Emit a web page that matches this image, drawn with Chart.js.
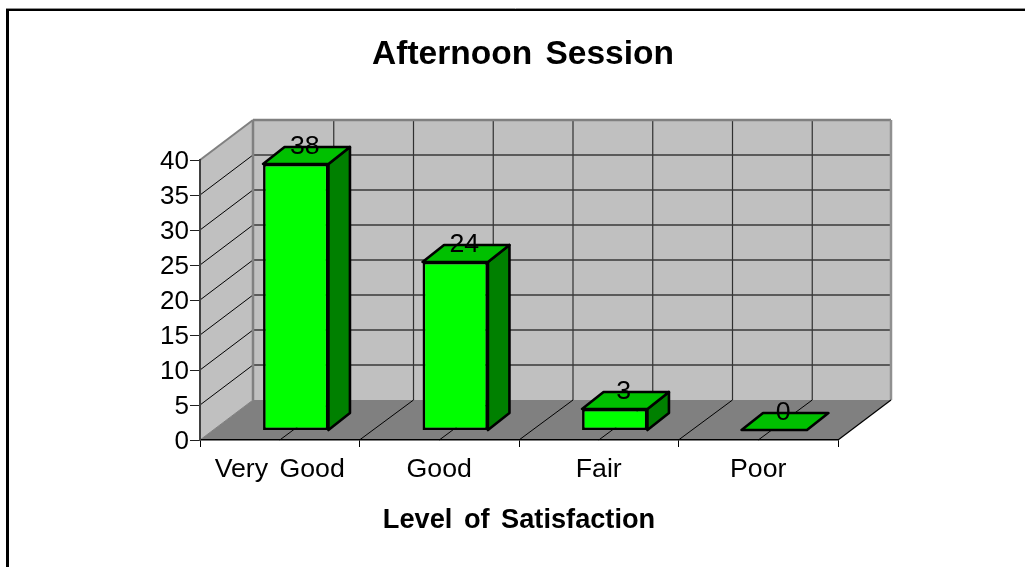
<!DOCTYPE html>
<html><head><meta charset="utf-8">
<style>html,body{margin:0;padding:0;background:#fff}canvas{display:block}</style>
<script src="https://cdn.jsdelivr.net/npm/chart.js@4"></script>
</head><body><canvas id="c" width="1025" height="567"></canvas>
<script>
const categories = ['Very Good', 'Good', 'Fair', 'Poor'];
const values = [38, 24, 3, 0];
const chartTitle = 'Afternoon Session';
const xAxisTitle = 'Level of Satisfaction';

const FONT = '"Liberation Sans", Arial, sans-serif';
const BACK = {dx: 53, dy: -40};      // depth of floor
const BAR_FRONT = {dx: 16, dy: -10, baseDy: -9.5}; // bar front face inset on the floor
const BAR_DEPTH = {dx: 21.5, dy: -17};

function poly(ctx, pts, fill, stroke, lw) {
  ctx.beginPath();
  pts.forEach((p, i) => i ? ctx.lineTo(p[0], p[1]) : ctx.moveTo(p[0], p[1]));
  ctx.closePath();
  if (fill) { ctx.fillStyle = fill; ctx.fill(); }
  if (stroke) { ctx.strokeStyle = stroke; ctx.lineWidth = lw; ctx.lineJoin = 'round'; ctx.stroke(); }
}
function seg(ctx, x1, y1, x2, y2, color, lw) {
  ctx.beginPath(); ctx.moveTo(x1, y1); ctx.lineTo(x2, y2);
  ctx.strokeStyle = color; ctx.lineWidth = lw; ctx.stroke();
}

const scene3d = {
  id: 'scene3d',
  afterLayout(chart) { chart.titleBlock.left += 4; chart.titleBlock.right += 4; },
  afterDatasetsUpdate(chart) {
    chart.getDatasetMeta(0).data.forEach(b => {
      b.x += BAR_FRONT.dx; b.y += BAR_FRONT.dy; b.base += BAR_FRONT.baseDy;
    });
  },
  beforeDraw(chart) {
    const ctx = chart.ctx, a = chart.chartArea, {x, y} = chart.scales;
    ctx.save();
    // outer frame (open on right and bottom)
    seg(ctx, 6, 8.5, 1025, 8.5, '#909090', 1);
    seg(ctx, 6, 10, 1025, 10, '#000', 2);
    seg(ctx, 7.5, 9, 7.5, 567, '#000', 3);
    const bx = BACK.dx, by = BACK.dy;
    // walls and floor
    poly(ctx, [[a.left+bx, a.top+by], [a.right+bx, a.top+by], [a.right+bx, a.bottom+by], [a.left+bx, a.bottom+by]], '#c0c0c0');
    poly(ctx, [[a.left, a.top], [a.left+bx, a.top+by], [a.left+bx, a.bottom+by], [a.left, a.bottom]], '#c0c0c0');
    poly(ctx, [[a.left, a.bottom], [a.right, a.bottom], [a.right+bx, a.bottom+by], [a.left+bx, a.bottom+by]], '#808080');
    // vertical grid on back wall + floor lines: category bounds and centres
    const n = categories.length, step = (a.right - a.left) / n;
    for (let i = 1; i < 2*n; i++) {
      const px = i % 2 ? x.getPixelForValue((i-1)/2) : x.getPixelForValue(i/2) - step/2;
      seg(ctx, px+bx+1, a.top+by, px+bx+1, a.bottom+by, '#303030', 1.2);
      seg(ctx, px, a.bottom, px+bx+1, a.bottom+by, '#000', 1);
    }
    // horizontal grid on back wall and side wall
    y.ticks.forEach(t => {
      const py = y.getPixelForValue(t.value);
      if (t.value > 0 && t.value < 40) {
        seg(ctx, a.left+bx, py+by, a.right+bx, py+by, '#383838', 1.4);
        seg(ctx, a.left, py, a.left+bx, py+by, '#000', 1);
      }
    });
    // wall outlines in grey
    seg(ctx, a.left, a.top, a.left+bx, a.top+by, '#808080', 2);
    seg(ctx, a.left+bx, a.top+by, a.right+bx, a.top+by, '#808080', 2.5);
    seg(ctx, a.left+bx, a.top+by, a.left+bx, a.bottom+by, '#808080', 2.5);
    seg(ctx, a.right+bx, a.top+by, a.right+bx, a.bottom+by, '#909090', 2.5);
    seg(ctx, a.left, a.bottom, a.left+bx, a.bottom+by, '#808080', 1);
    seg(ctx, a.right, a.bottom, a.right+bx, a.bottom+by, '#000', 1.2);
    ctx.restore();
    ctx.wordSpacing = '4px';
  },
  beforeDatasetsDraw(chart) {
    const ctx = chart.ctx, dx = BAR_DEPTH.dx, dy = BAR_DEPTH.dy;
    ctx.save();
    chart.getDatasetMeta(0).data.forEach(b => {
      const l = b.x - b.width/2, r = b.x + b.width/2, t = b.y, bot = b.base;
      if (bot - t > 1) poly(ctx, [[r, t], [r+dx, t+dy], [r+dx, bot+dy], [r, bot]], '#008000', '#000', 2.6);
      poly(ctx, [[l, t], [r, t], [r+dx, t+dy], [l+dx, t+dy]], '#00c000', '#000', 2.6);
    });
    ctx.restore();
  },
  afterDatasetsDraw(chart) {
    const ctx = chart.ctx;
    ctx.save();
    ctx.font = '26.7px ' + FONT; ctx.fillStyle = '#000';
    ctx.textAlign = 'center'; ctx.textBaseline = 'middle';
    chart.getDatasetMeta(0).data.forEach((b, i) => {
      ctx.fillText(String(values[i]), b.x + 9, b.y - 17);
    });
    ctx.restore();
  }
};

new Chart(document.getElementById('c'), {
  type: 'bar',
  data: {
    labels: categories,
    datasets: [{
      data: values, backgroundColor: '#00ff00', borderColor: '#000', borderWidth: 2.6,
      borderSkipped: false, categoryPercentage: 1, barPercentage: 0.41
    }]
  },
  plugins: [scene3d],
  options: {
    responsive: false, animation: false, events: [],
    layout: {padding: {left: 100, right: 187, top: 0, bottom: 27}},
    plugins: {
      legend: {display: false}, tooltip: {enabled: false},
      title: {
        display: true, text: chartTitle, fullSize: false, color: '#000',
        font: {family: FONT, size: 33.5, weight: 'bold', lineHeight: 1},
        padding: {top: 38, bottom: 88.5}
      }
    },
    scales: {
      x: {
        afterFit(s) { s.height = 100; },
        grid: {display: true, offset: true, drawOnChartArea: false, drawTicks: true, tickLength: 7, color: '#000', lineWidth: 1},
        border: {display: true, color: '#000', width: 1.5},
        ticks: {color: '#000', font: {family: FONT, size: 26.7}, padding: 7, maxRotation: 0, autoSkip: false},
        title: {display: true, text: xAxisTitle, color: '#000', font: {family: FONT, size: 27.2, weight: 'bold'}, padding: {top: 12, bottom: 3}}
      },
      y: {
        min: 0, max: 40,
        afterFit(s) { s.width = 100; },
        grid: {drawOnChartArea: false, drawTicks: true, tickLength: 10, color: '#202020', lineWidth: 1},
        border: {display: true, color: '#404040', width: 2},
        ticks: {stepSize: 5, color: '#000', font: {family: FONT, size: 26}, padding: 1, labelOffset: 1.5}
      }
    }
  }
});
</script></body></html>
